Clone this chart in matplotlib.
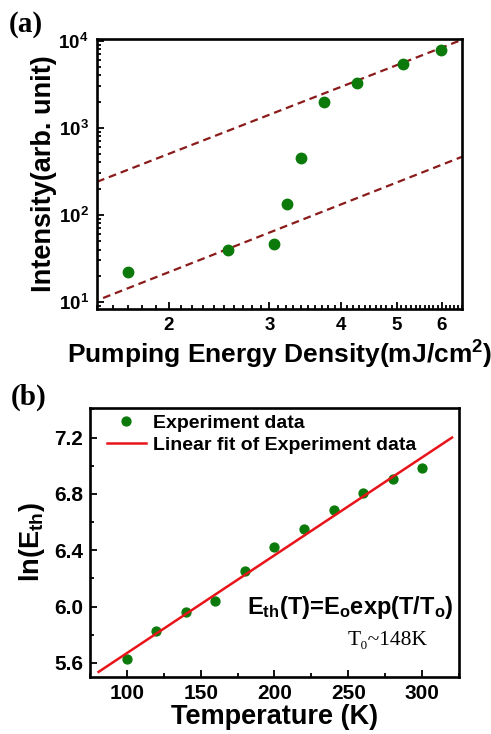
import numpy as np
import matplotlib
matplotlib.use("Agg")
from matplotlib import pyplot as plt
from matplotlib.ticker import FixedLocator, NullFormatter, LogLocator, MultipleLocator

plt.rcParams['font.family'] = ['Liberation Sans', 'DejaVu Sans']
plt.rcParams['font.weight'] = 'bold'
plt.rcParams['mathtext.fontset'] = 'custom'
plt.rcParams['mathtext.bf'] = 'Liberation Sans:bold'
plt.rcParams['mathtext.rm'] = 'Liberation Sans:bold'
plt.rcParams['mathtext.default'] = 'bf'

# panel (a): intensity vs pumping energy density
energy = [1.70, 2.54, 3.06, 3.22, 3.41, 3.74, 4.27, 5.13, 5.98]
intensity = [22, 39.6, 46, 134, 452, 1990, 3290, 5440, 7890]
# dashed guide lines (end points)
upper_x = [1.50, 6.50]
upper_y = [240, 10250]
lower_x = [1.537, 6.50]
lower_y = [11.1, 464]

# panel (b): ln(Eth) vs temperature
temp = [100, 120, 140, 160, 180, 200, 220, 240, 260, 280, 300]
ln_eth = [5.63, 5.824, 5.963, 6.039, 6.254, 6.426, 6.549, 6.683, 6.804, 6.907, 6.983]
fit_t = [80.8, 320.3]
fit_ln = [5.536, 7.20]

green = '#0b7a0b'
dark_red = '#8b1a1a'

fig = plt.figure(figsize=(4.91, 7.34), dpi=100)

# ---- (a)
ax1 = fig.add_axes([0.1976, 0.579, 0.743, 0.368])
ax1.set_xscale('log')
ax1.set_yscale('log')
ax1.plot(upper_x, upper_y, color=dark_red, lw=1.6, ls=(0, (3.5, 2.2)))
ax1.plot(lower_x, lower_y, color=dark_red, lw=1.6, ls=(0, (3.5, 2.2)))
ax1.plot(energy, intensity, 'o', color=green, ms=7.5, mec=green)
ax1.set_xlim(1.5, 6.5)
ax1.set_ylim(8.3, 10500)
ax1.xaxis.set_major_locator(FixedLocator([2, 3, 4, 5, 6]))
ax1.xaxis.set_minor_locator(FixedLocator(np.arange(1.5, 6.51, 0.1)))
ax1.xaxis.set_major_formatter(matplotlib.ticker.FixedFormatter(['2', '3', '4', '5', '6']))
ax1.xaxis.set_minor_formatter(NullFormatter())
ax1.yaxis.set_major_locator(LogLocator(base=10, numticks=10))
ax1.yaxis.set_minor_locator(LogLocator(base=10, subs=np.arange(2, 10), numticks=10))
ax1.yaxis.set_minor_formatter(NullFormatter())
ax1.tick_params(which='both', direction='in', top=False, right=False, labelsize=13.5, width=1.3)
ax1.tick_params(which='major', length=5, pad=6)
ax1.tick_params(which='minor', length=2.8)
ax1.set_xlabel('Pumping Energy Density(mJ/cm$^2$)', fontsize=19, fontweight='bold', labelpad=3)
ax1.set_ylabel('Intensity(arb. unit)', fontsize=19.5, fontweight='bold', labelpad=1)
for s in ax1.spines.values():
    s.set_linewidth(1.9)
fig.text(0.053, 0.966, '(a)', fontsize=21, fontweight='bold',
         family=['Liberation Serif', 'DejaVu Serif'], ha='center', va='center')

# ---- (b)
ax2 = fig.add_axes([0.1833, 0.0777, 0.7515, 0.3665])
ax2.plot(temp, ln_eth, 'o', color=green, ms=6.4, mec=green, label='Experiment data', zorder=2)
ax2.plot(fit_t, fit_ln, '-', color='#e8141a', lw=1.8, label='Linear fit of Experiment data', zorder=3)
ax2.set_xlim(75, 325)
ax2.set_ylim(5.5, 7.41)
ax2.xaxis.set_major_locator(MultipleLocator(50))
ax2.xaxis.set_minor_locator(MultipleLocator(25))
ax2.yaxis.set_major_locator(MultipleLocator(0.4))
ax2.yaxis.set_minor_locator(MultipleLocator(0.2))
ax2.yaxis.set_major_formatter(matplotlib.ticker.FormatStrFormatter('%.1f'))
ax2.tick_params(which='both', direction='in', top=False, right=False, labelsize=15, width=1.3)
ax2.tick_params(which='major', length=5, pad=5)
ax2.tick_params(which='minor', length=2.8)
ax2.set_xlabel('Temperature (K)', fontsize=19.5, fontweight='bold', labelpad=1)
ax2.set_ylabel('ln(E$_{th}$)', fontsize=19.5, fontweight='bold', labelpad=5)
for s in ax2.spines.values():
    s.set_linewidth(1.9)
ax2.legend(loc='upper left', bbox_to_anchor=(0.046, 0.975), frameon=False,
           handlelength=2.0, handletextpad=0.35, labelspacing=0.2, borderpad=0,
           borderaxespad=0, prop={'weight': 'bold', 'size': 14})
ax2.text(0.985, 0.26, 'E$_{th}$(T)=E$_o$exp(T/T$_o$)', transform=ax2.transAxes,
         fontsize=17, fontweight='bold', ha='right', va='center')
ax2.text(0.915, 0.135, 'T\u2080~148K', transform=ax2.transAxes, fontsize=15.5,
         family=['Liberation Serif', 'DejaVu Serif'], fontweight='normal', ha='right', va='center')
fig.text(0.059, 0.459, '(b)', fontsize=21, fontweight='bold',
         family=['Liberation Serif', 'DejaVu Serif'], ha='center', va='center')

fig.savefig('out.png', dpi=100)
